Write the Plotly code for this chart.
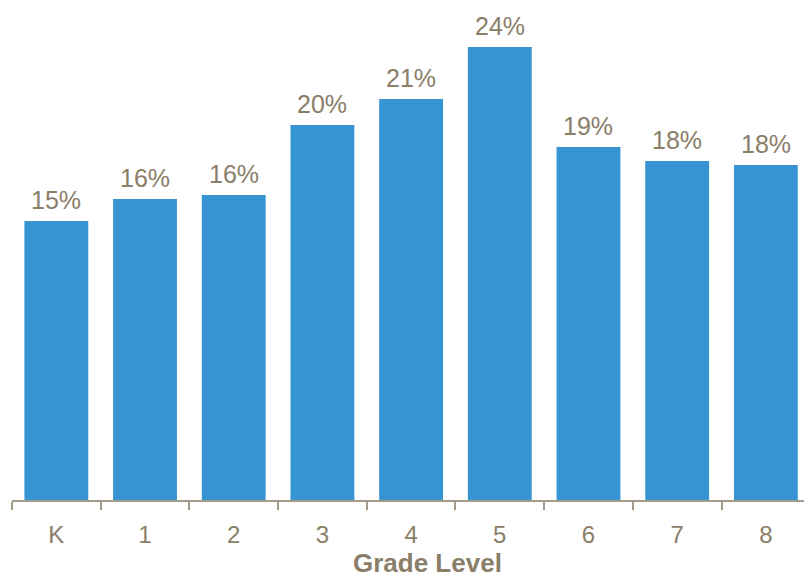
import plotly.graph_objects as go

grades = ["K", "1", "2", "3", "4", "5", "6", "7", "8"]
values = [14.78, 15.95, 16.16, 19.87, 21.25, 24.0, 18.70, 17.96, 17.75]
labels = [f"{round(v)}%" for v in values]

BAR = "#3594d1"
TXT = "#8a7e69"
AXIS = "#a39a8a"

fig = go.Figure()
fig.add_trace(go.Bar(x=grades, y=values, marker_color=BAR, marker_line_width=0,
                     hoverinfo="skip"))
for g, v, t in zip(grades, values, labels):
    fig.add_annotation(x=g, y=v, text=t, showarrow=False, yanchor="bottom",
                       yshift=5, font=dict(family="Liberation Sans, Arial", size=25, color=TXT))

fig.add_annotation(xref="paper", yref="paper", x=0.5246, y=-0.156,
                   xanchor="center", yanchor="bottom", showarrow=False,
                   borderpad=0, yshift=-1,
                   text="<b>Grade Level</b>",
                   font=dict(family="Liberation Sans, Arial", size=26, color=TXT))

fig.update_layout(
    width=804, height=578,
    margin=dict(l=12, r=0, t=0, b=78),
    paper_bgcolor="white", plot_bgcolor="white",
    bargap=0.28,
    showlegend=False,
    font=dict(family="Liberation Sans, Arial", size=24, color=TXT),
    xaxis=dict(
        range=[-0.5, 8.43], type="category",
        showline=True, linecolor=AXIS, linewidth=2,
        ticks="outside", tickson="boundaries", ticklen=8, tickcolor=AXIS, tickwidth=1.5,
        tickfont=dict(size=24, color=TXT), ticklabelstandoff=12,
        showgrid=False, zeroline=False,
    ),
    yaxis=dict(range=[0, 26.49], visible=False, showgrid=False, zeroline=False),
)

fig.write_html("out.html")
